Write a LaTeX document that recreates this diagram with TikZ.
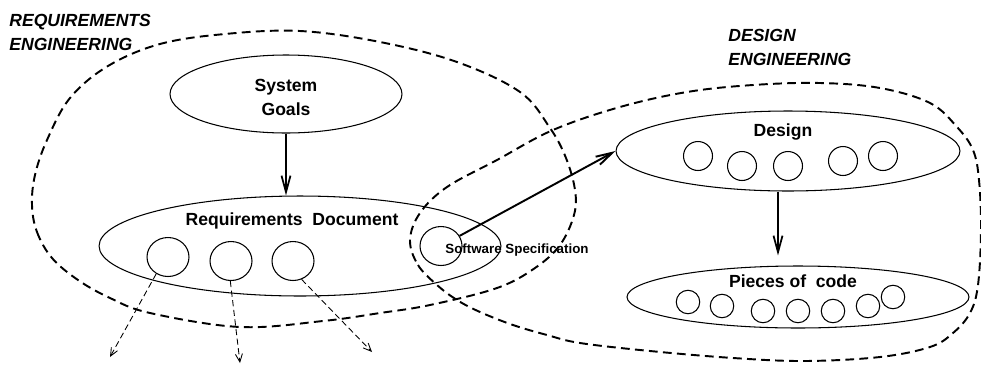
\documentclass[tikz,border=0pt]{standalone}
\usepackage{fontspec}
\setmainfont{Liberation Sans}
\usetikzlibrary{shapes.geometric,arrows.meta}
\begin{document}
\begin{tikzpicture}[x=0.02cm,y=-0.02cm,
  oval/.style 2 args={draw, ellipse, line width=0.6pt, inner sep=0pt,
    minimum width=#1, minimum height=#2},
  lbl/.style={font=\fontsize{10}{13.8}\selectfont\bfseries, inner sep=0pt, align=center},
  small/.style={font=\fontsize{7.6}{9}\selectfont\bfseries, inner sep=0pt},
  zone/.style={font=\fontsize{10}{14}\selectfont\bfseries\itshape, inner sep=0pt,
    align=left, anchor=north west},
  region/.style={line width=1.1pt, dash pattern=on 5pt off 3pt},
  flow/.style={line width=1pt, -{Straight Barb[length=3.3mm,width=1.8mm]}},
  trace/.style={line width=0.5pt, dash pattern=on 3.5pt off 2pt,
    -{Straight Barb[length=1.6mm,width=1.4mm]}}]

\path[use as bounding box] (0,0) rectangle (981,366);

% engineering regions
\draw[region] plot[smooth cycle, tension=0.6] coordinates {
  (32,205) (37,232) (52,258) (78,280) (110,298) (150,313) (240,327)
  (323,321) (380,313) (430,305) (497,288) (535,268) (560,245) (574,215)
  (575,190) (566,158) (550,128) (520,92) (457,62) (380,42) (300,31)
  (225,34) (160,44) (108,66) (70,98) (47,140) (35,175)};
\draw[region] plot[smooth cycle, tension=0.6] coordinates {
  (410,240) (418,265) (437,285) (457,300) (480,312) (513,325) (547,335)
  (580,343) (650,351) (733,358) (805,361) (880,357) (930,347) (953,333)
  (970,313) (978,285) (981,230) (979,180) (973,150) (957,127) (930,103)
  (880,88) (820,83) (753,85) (687,92) (620,107) (553,130) (497,160)
  (447,187) (420,213)};

\node[zone] (reqlabel) at (9,13.5) {REQUIREMENTS\\ENGINEERING};
\node[zone] (deslabel) at (728,28.5) {DESIGN\\ENGINEERING};

% requirements side
\node[oval={4.64cm}{1.56cm}] (sg) at (286,94) {};
\node[lbl] (sgt) at (286,97.7) {System\\Goals};

\node[oval={8.04cm}{2cm}] (rd) at (300,246) {};
\node[lbl, anchor=base] (rdt) at (292,225) {Requirements\ \ Document};
\node[oval={0.84cm}{0.78cm}] (c1) at (168,257) {};
\node[oval={0.84cm}{0.78cm}] (c2) at (231,261) {};
\node[oval={0.84cm}{0.78cm}] (c3) at (293,261) {};

\node[oval={0.84cm}{0.78cm}] (ss) at (441,246) {};
\node[small, anchor=base] (sst) at (517,253) {Software Specification};

% design side
\node[oval={6.88cm}{1.6cm}] (de) at (788,151) {};
\node[lbl, anchor=base] (det) at (783,136) {Design};
\foreach \n/\x/\y in {d1/698/156, d2/742/166, d3/788/166, d4/843/161, d5/883/156}
  \node[oval={0.58cm}{0.58cm}] (\n) at (\x,\y) {};

\node[oval={6.84cm}{1.24cm}] (pc) at (798,297) {};
\node[lbl, anchor=base] (pct) at (793,287) {Pieces of\ \ code};
\foreach \n/\x/\y in {p1/688/302, p2/722/306, p3/763/311, p4/798/311,
                      p5/833/311, p6/868/306, p7/893/297}
  \node[oval={0.47cm}{0.47cm}] (\n) at (\x,\y) {};

% connectors
\draw[flow] (sg.south) -- (sg.south |- rd.north);
\draw[flow, line width=1.1pt] (ss) -- (de.west);
\draw[flow, shorten >=0.2cm] ([xshift=-0.2cm]de.south) -- ([xshift=-0.2cm]de.south |- pc.north);

\coordinate (t1) at (110,357);
\coordinate (t2) at (240,363);
\coordinate (t3) at (372,352);
\draw[trace] (c1.235) -- (t1);
\draw[trace] (c2.268) -- (t2);
\draw[trace] (c3.295) -- (t3);
\end{tikzpicture}
\end{document}
